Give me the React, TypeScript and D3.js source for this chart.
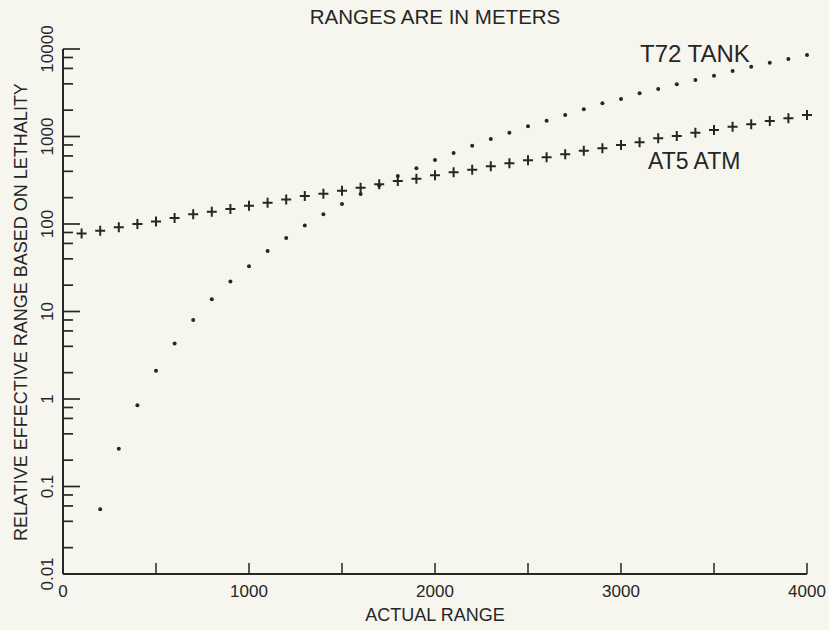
import React, { useEffect, useRef } from 'react'
import * as d3 from 'd3'

// actual range (m) and relative effective range
const t72Range = [200, 300, 400, 500, 600, 700, 800, 900, 1000, 1100, 1200, 1300, 1400, 1500, 1600, 1700, 1800, 1900, 2000, 2100, 2200, 2300, 2400, 2500, 2600, 2700, 2800, 2900, 3000, 3100, 3200, 3300, 3400, 3500, 3600, 3700, 3800, 3900, 4000]
const t72Value = [0.055, 0.27, 0.85, 2.1, 4.3, 8.0, 13.8, 22, 33, 49, 69, 96, 129, 169, 220, 275, 354, 433, 539, 648, 785, 936, 1105, 1308, 1517, 1762, 2046, 2395, 2683, 3118, 3491, 3953, 4426, 4956, 5610, 6281, 6966, 7691, 8534]

const at5Range = [100, 200, 300, 400, 500, 600, 700, 800, 900, 1000, 1100, 1200, 1300, 1400, 1500, 1600, 1700, 1800, 1900, 2000, 2100, 2200, 2300, 2400, 2500, 2600, 2700, 2800, 2900, 3000, 3100, 3200, 3300, 3400, 3500, 3600, 3700, 3800, 3900, 4000]
const at5Value = [78, 84, 92, 100, 107, 117, 129, 138, 148, 162, 175, 190, 209, 222, 240, 260, 284, 310, 329, 360, 390, 418, 456, 494, 535, 578, 626, 688, 733, 800, 859, 953, 1014, 1105, 1186, 1295, 1378, 1504, 1614, 1762]

const xTicks = [0, 500, 1000, 1500, 2000, 2500, 3000, 3500, 4000]
const xTickLabels = ['0', '1000', '2000', '3000', '4000']
const yTickLabels = ['0.01', '0.1', '1', '10', '100', '1000', '10000']

export default function App() {
  const ref = useRef<SVGSVGElement | null>(null)

  useEffect(() => {
    const width = 829
    const height = 630
    const ink = '#262626'
    const font = '"Liberation Sans", Arial, sans-serif'
    const svg = d3.select(ref.current!)
    svg.selectAll('*').remove()

    svg.append('rect').attr('width', width).attr('height', height).attr('fill', '#f6f6ef')

    const x = d3.scaleLinear().domain([0, 4000]).range([63, 807])
    const y = d3.scaleLog().domain([0.01, 10000]).range([574, 49])

    const g = svg.append('g').attr('font-family', font).attr('fill', ink)

    // axis lines
    g.append('line').attr('x1', x(0)).attr('x2', x(0)).attr('y1', y(10000)).attr('y2', y(0.01))
      .attr('stroke', ink).attr('stroke-width', 2)
    g.append('line').attr('x1', x(0)).attr('x2', x(4000)).attr('y1', y(0.01)).attr('y2', y(0.01))
      .attr('stroke', ink).attr('stroke-width', 2)

    // y ticks: decades long, 2/4/6/8 short, pointing inward
    const yTicks = y.ticks().filter(v => {
      const m = Math.round(v / Math.pow(10, Math.floor(Math.log10(v) + 1e-9)))
      return [1, 2, 4, 6, 8].includes(m)
    })
    g.append('g').selectAll('line').data(yTicks).enter().append('line')
      .attr('x1', x(0))
      .attr('x2', d => {
        const major = Math.abs(Math.log10(d) - Math.round(Math.log10(d))) < 1e-6
        return x(0) + (major ? 17 : 10)
      })
      .attr('y1', d => y(d)).attr('y2', d => y(d))
      .attr('stroke', ink).attr('stroke-width', 1.7)

    g.append('g').selectAll('text').data(yTickLabels).enter().append('text')
      .attr('transform', d => `translate(53,${y(+d)}) rotate(-90)`)
      .attr('text-anchor', 'middle').attr('font-size', 17)
      .text(d => d)

    // x ticks
    g.append('g').selectAll('line').data(xTicks.slice(1)).enter().append('line')
      .attr('x1', d => x(d)).attr('x2', d => x(d))
      .attr('y1', y(0.01)).attr('y2', y(0.01) - 11)
      .attr('stroke', ink).attr('stroke-width', 1.5)

    g.append('g').selectAll('text').data(xTickLabels).enter().append('text')
      .attr('x', d => x(+d)).attr('y', 597)
      .attr('text-anchor', 'middle').attr('font-size', 17)
      .text(d => d)

    // series
    const t72 = t72Range.map((r, i) => [r, t72Value[i]] as [number, number])
    const at5 = at5Range.map((r, i) => [r, at5Value[i]] as [number, number])

    g.append('g').selectAll('circle').data(t72).enter().append('circle')
      .attr('cx', d => x(d[0])).attr('cy', d => y(d[1])).attr('r', 2).attr('fill', ink)

    g.append('g').selectAll('path').data(at5).enter().append('path')
      .attr('transform', d => `translate(${x(d[0])},${y(d[1])})`)
      .attr('d', 'M-5,0H5M0,-5V5')
      .attr('stroke', ink).attr('stroke-width', 2).attr('fill', 'none')

    // labels
    g.append('text').attr('x', 435).attr('y', 24).attr('text-anchor', 'middle').attr('font-size', 20.5)
      .text('RANGES ARE IN METERS')
    g.append('text').attr('x', 640).attr('y', 62).attr('font-size', 24).text('T72 TANK')
    g.append('text').attr('x', 648).attr('y', 169).attr('font-size', 23).text('AT5 ATM')
    g.append('text').attr('x', 435).attr('y', 621).attr('text-anchor', 'middle').attr('font-size', 18)
      .text('ACTUAL RANGE')
    g.append('text').attr('transform', 'translate(27,312) rotate(-90)').attr('text-anchor', 'middle')
      .attr('font-size', 18).text('RELATIVE EFFECTIVE RANGE BASED ON LETHALITY')
  }, [])

  return (
    <svg ref={ref} width={829} height={630}
      style={{ position: 'absolute', left: 0, top: 0, display: 'block' }} />
  )
}
